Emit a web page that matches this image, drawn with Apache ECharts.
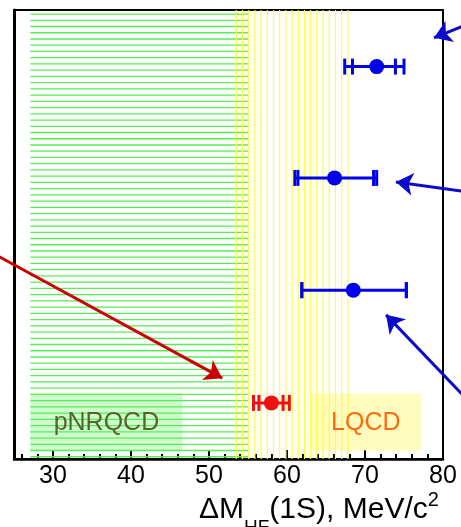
<!DOCTYPE html>
<html>
<head>
<meta charset="utf-8">
<script src="https://cdn.jsdelivr.net/npm/echarts@6/dist/echarts.min.js"></script>
<style>
  html, body { margin: 0; padding: 0; background: #fff; }
  #chart { width: 461px; height: 527px; }
</style>
</head>
<body>
<div id="chart"></div>
<script>
// x axis (MeV/c^2)
const xMin = 25;
const xMax = 80;
const majorTicks = [30, 40, 50, 60, 70, 80];
const minorTicks = [26, 28, 32, 34, 36, 38, 42, 44, 46, 48, 52, 54, 56, 58, 62, 64, 66, 68, 72, 74, 76, 78];

// vertical position is only a slot, 0 = bottom, 100 = top
const blueRow = [87.4, 62.6, 37.6];
const blueValue = [71.5, 66.1, 68.5];
const blueLoSys = [67.4, 61.0, 61.9];
const blueLoStat = [68.4, 61.4, 61.9];
const blueHiStat = [73.9, 71.1, 75.3];
const blueHiSys = [75.0, 71.5, 75.3];

const redRow = [12.5];
const redValue = [58.0];
const redLoSys = [55.7];
const redLoStat = [56.4];
const redHiStat = [59.5];
const redHiSys = [60.3];

// theory bands [xFrom, xTo, yFrom, yTo]
const nrqcdBand = [27.1, 55.0, 0.5, 99.1];
const lqcdBand = [53.5, 67.8, 0, 100];

// label boxes
const boxNames = ['pNRQCD', 'LQCD'];
const boxFrom = [27.1, 63.0];
const boxTo = [46.6, 77.2];
const boxBottom = [1.85, 1.85];
const boxTop = [14.6, 14.6];

// arrows [from, to]
const redArrows = [[[21.9, 46.2], [51.7, 18.0]]];
const blueArrows = [
  [[83.5, 97.1], [78.85, 93.8]],
  [[83.5, 59.4], [73.97, 61.7]],
  [[83.5, 12.5], [72.7, 32.1]]
];

const font = 'Liberation Sans';

function rowsOf(val, row, a, b, c, d) {
  return val.map((v, i) => [v, row[i], a[i], b[i], c[i], d[i]]);
}

function errBar(color) {
  return function (params, api) {
    const y = api.value(1);
    const xs = [api.value(2), api.value(3), api.value(4), api.value(5)];
    const p0 = api.coord([xs[0], y]);
    const p3 = api.coord([xs[3], y]);
    const kids = [{
      type: 'line',
      shape: { x1: p0[0], y1: p0[1], x2: p3[0], y2: p3[1] },
      style: { stroke: color, lineWidth: 3 }
    }];
    xs.forEach(x => {
      const p = api.coord([x, y]);
      kids.push({
        type: 'line',
        shape: { x1: p[0], y1: p[1] - 8, x2: p[0], y2: p[1] + 8 },
        style: { stroke: color, lineWidth: 3 }
      });
    });
    return { type: 'group', children: kids };
  };
}

function hatch(dir, color, gap, width) {
  return function (params, api) {
    const a = api.coord([api.value(0), api.value(2)]);
    const b = api.coord([api.value(1), api.value(3)]);
    const kids = [];
    if (dir === 'h') {
      const n = Math.round(Math.abs(a[1] - b[1]) / gap);
      for (let i = 0; i <= n; i++) {
        const y = b[1] + (a[1] - b[1]) * i / n;
        kids.push({ type: 'line', shape: { x1: a[0], y1: y, x2: b[0], y2: y }, style: { stroke: color, lineWidth: width } });
      }
    } else {
      const n = Math.round(Math.abs(b[0] - a[0]) / gap);
      for (let i = 0; i <= n; i++) {
        const x = a[0] + (b[0] - a[0]) * i / n;
        kids.push({ type: 'line', shape: { x1: x, y1: a[1], x2: x, y2: b[1] }, style: { stroke: color, lineWidth: width } });
      }
    }
    return { type: 'group', children: kids };
  };
}

const boxFill = ['rgba(120,240,120,0.36)', 'rgba(255,248,110,0.45)'];
const boxText = ['#55652a', '#ff6a10'];

const chart = echarts.init(document.getElementById('chart'));

chart.setOption({
  animation: false,
  backgroundColor: '#fff',
  title: {
    text: '{m|ΔM}{s|HF}{m|(1S), MeV/c}{p|2}',
    left: 199,
    top: 480,
    padding: 0,
    textStyle: {
      rich: {
        m: { fontFamily: font, fontSize: 30, fontWeight: 'normal', color: '#000', verticalAlign: 'top', padding: [15, 0, 0, 0] },
        s: { fontFamily: font, fontSize: 19, fontWeight: 'normal', color: '#000', verticalAlign: 'top', padding: [38, 0, 0, 0] },
        p: { fontFamily: font, fontSize: 20, fontWeight: 'normal', color: '#000', verticalAlign: 'top', padding: [10, 0, 0, 0] }
      }
    }
  },
  grid: {
    left: 14,
    right: 18,
    top: 10,
    bottom: 68,
    show: true,
    borderColor: '#000',
    borderWidth: 2,
    backgroundColor: 'transparent'
  },
  xAxis: [
    {
      type: 'value',
      min: xMin,
      max: xMax,
      position: 'bottom',
      axisLine: { lineStyle: { color: '#000', width: 2.5 } },
      axisTick: { inside: true, length: 9, customValues: majorTicks, lineStyle: { color: '#000', width: 2 } },
      axisLabel: { customValues: majorTicks, fontFamily: font, fontSize: 25, color: '#000', margin: 5 },
      splitLine: { show: false }
    },
    {
      type: 'value',
      min: xMin,
      max: xMax,
      position: 'bottom',
      axisLine: { show: false },
      axisTick: { inside: true, length: 5, customValues: minorTicks, lineStyle: { color: '#000', width: 2 } },
      axisLabel: { show: false },
      splitLine: { show: false }
    }
  ],
  yAxis: {
    type: 'value',
    min: 0,
    max: 100,
    axisLine: { show: true, lineStyle: { color: '#000', width: 3 } },
    axisTick: { show: false },
    axisLabel: { show: false },
    splitLine: { show: false }
  },
  series: [
    {
      type: 'custom',
      z: 1,
      renderItem: function (params, api) {
        const i = params.dataIndex;
        const a = api.coord([api.value(0), api.value(2)]);
        const b = api.coord([api.value(1), api.value(3)]);
        return {
          type: 'rect',
          shape: { x: a[0], y: b[1], width: b[0] - a[0], height: a[1] - b[1] },
          style: { fill: boxFill[i] }
        };
      },
      data: boxNames.map((n, i) => [boxFrom[i], boxTo[i], boxBottom[i], boxTop[i]])
    },
    {
      type: 'custom',
      z: 2,
      renderItem: hatch('h', '#55ef55', 6.2, 1.3),
      data: [nrqcdBand]
    },
    {
      type: 'custom',
      z: 3,
      renderItem: hatch('v', '#ffff3a', 6.2, 1.2),
      data: [lqcdBand]
    },
    {
      type: 'custom',
      z: 4,
      renderItem: function (params, api) {
        const i = params.dataIndex;
        const a = api.coord([api.value(0), api.value(2)]);
        const b = api.coord([api.value(1), api.value(3)]);
        return {
          type: 'text',
          x: (a[0] + b[0]) / 2,
          y: (a[1] + b[1]) / 2 + 1,
          style: {
            text: boxNames[i],
            fontFamily: font,
            fontSize: 25,
            fill: boxText[i],
            align: 'center',
            verticalAlign: 'middle'
          }
        };
      },
      data: boxNames.map((n, i) => [boxFrom[i], boxTo[i], boxBottom[i], boxTop[i]])
    },
    {
      type: 'custom',
      z: 5,
      renderItem: errBar('#0000ee'),
      data: rowsOf(blueValue, blueRow, blueLoSys, blueLoStat, blueHiStat, blueHiSys)
    },
    {
      type: 'custom',
      z: 5,
      renderItem: errBar('#ee1111'),
      data: rowsOf(redValue, redRow, redLoSys, redLoStat, redHiStat, redHiSys)
    },
    {
      type: 'scatter',
      z: 6,
      symbolSize: 15,
      itemStyle: { color: '#0000ee', opacity: 1 },
      data: blueValue.map((v, i) => [v, blueRow[i]])
    },
    {
      type: 'scatter',
      z: 6,
      symbolSize: 15,
      itemStyle: { color: '#ee1111', opacity: 1 },
      data: redValue.map((v, i) => [v, redRow[i]])
    },
    {
      type: 'lines',
      coordinateSystem: 'cartesian2d',
      clip: false,
      z: 7,
      symbol: ['none', 'arrow'],
      symbolSize: 17,
      lineStyle: { color: '#cc0000', width: 3, opacity: 1 },
      data: redArrows.map(c => ({ coords: c }))
    },
    {
      type: 'lines',
      coordinateSystem: 'cartesian2d',
      clip: false,
      z: 7,
      symbol: ['none', 'arrow'],
      symbolSize: 17,
      lineStyle: { color: '#0a0acc', width: 3, opacity: 1 },
      data: blueArrows.map(c => ({ coords: c }))
    }
  ]
});
</script>
</body>
</html>
